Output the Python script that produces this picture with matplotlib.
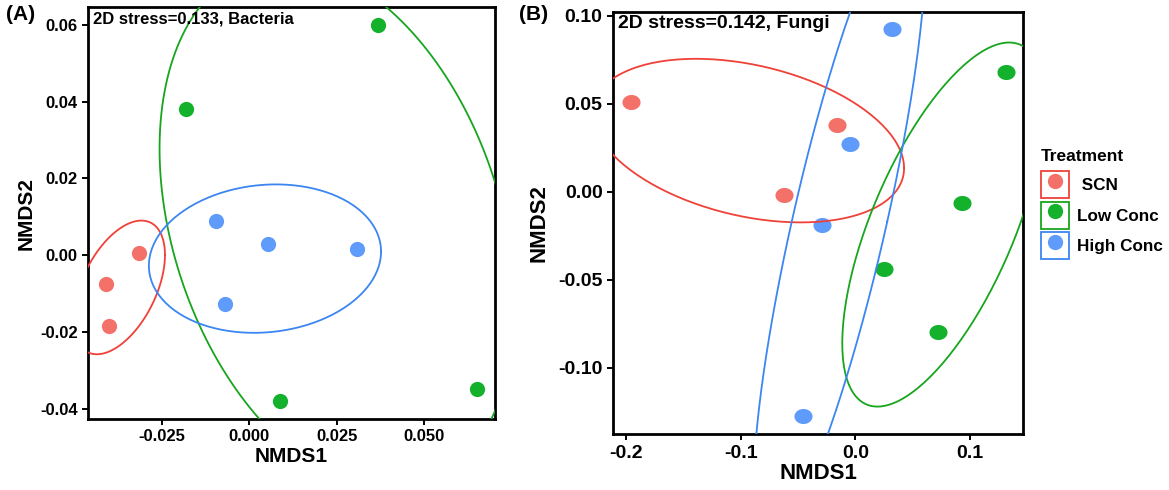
import numpy as np
import matplotlib
matplotlib.use("Agg")
import matplotlib.pyplot as plt
from matplotlib.path import Path
from matplotlib.patches import Rectangle
from matplotlib.lines import Line2D
from matplotlib.legend_handler import HandlerTuple

plt.rcParams['font.family'] = ['Liberation Sans', 'DejaVu Sans']
plt.rcParams['font.weight'] = 'bold'
plt.rcParams['axes.unicode_minus'] = False

groups = ["SCN", "Low Conc", "High Conc"]
pt_colors = ["#F4716A", "#13B12C", "#5F9BFA"]
line_colors = ["#EF4138", "#17A51D", "#3B86F2"]

# Bacteria NMDS scores
bac_x = {"SCN": [-0.0314, -0.0409, -0.0401],
         "Low Conc": [0.0368, -0.0180, 0.0089, 0.0653],
         "High Conc": [-0.0095, 0.0055, 0.0307, -0.0069]}
bac_y = {"SCN": [0.0007, -0.0075, -0.0184],
         "Low Conc": [0.0600, 0.0381, -0.0381, -0.0349],
         "High Conc": [0.0090, 0.0029, 0.0017, -0.0128]}

# Fungi NMDS scores
fun_x = {"SCN": [-0.1959, -0.0160, -0.0619],
         "Low Conc": [0.1312, 0.0930, 0.0248, 0.0724],
         "High Conc": [0.0317, -0.0046, -0.0288, -0.0453]}
fun_y = {"SCN": [0.0513, 0.0379, -0.0017],
         "Low Conc": [0.0678, -0.0061, -0.0438, -0.0795],
         "High Conc": [0.0924, 0.0273, -0.0188, -0.1275]}

# 95% ellipses: centre + a*cos(t) + b*sin(t)
# (cx, cy, ax, ay, bx, by) in NMDS units
bac_ell = {"SCN": [-0.0372, -0.0084, 0.01311, 0.00847, 0.0, 0.01523],
           "Low Conc": [0.02511, 0.00736, 0.05075, -0.02039, 0.0, 0.06557],
           "High Conc": [0.00451, -0.00089, 0.0332, 0.00183, 0.0, 0.01926]}
fun_ell = {"SCN": [-0.0933, 0.0291, 0.1358, -0.01563, 0.0, 0.04375],
           "Low Conc": [0.0767, -0.01858, 0.0881, 0.0674, 0.0, 0.0784],
           "High Conc": [-0.01387, -0.01705, 0.04164, 0.0, 0.06227, 0.1818]}


def ellipse_xy(e, n=200):
    t = np.linspace(0, 2 * np.pi, n)
    return (e[0] + e[2] * np.cos(t) + e[4] * np.sin(t),
            e[1] + e[3] * np.cos(t) + e[5] * np.sin(t))


# the fungi panel is a bit stretched sideways, so its dots are too
t = np.linspace(0, 2 * np.pi, 40)
wide_dot = Path(np.column_stack([1.2 * np.cos(t), np.sin(t)]), closed=True)

fig = plt.figure(figsize=(11.69, 4.90), dpi=100)
axA = fig.add_axes([0.0753, 0.1449, 0.3481, 0.8408])
axB = fig.add_axes([0.5244, 0.1137, 0.3510, 0.8624])


def panel(ax, xs, ys, ells, marker, msize, fs):
    for g, pc in zip(groups, pt_colors):
        ax.scatter(xs[g], ys[g], s=msize, color=pc, marker=marker, linewidths=0, zorder=2)
    for g, lc in zip(groups, line_colors):
        ex, ey = ellipse_xy(ells[g])
        ax.plot(ex, ey, color=lc, lw=1.3, zorder=3)
    for s in ax.spines.values():
        s.set_linewidth(2.0)
    ax.tick_params(direction='out', length=4, width=1.4, labelsize=fs, colors='black')


panel(axA, bac_x, bac_y, bac_ell, 'o', 120, 12)
axA.set_xlim(-0.0461, 0.0703)
axA.set_ylim(-0.0427, 0.0647)
axA.set_xticks([-0.025, 0.0, 0.025, 0.05])
axA.set_xticklabels(["-0.025", "0.000", "0.025", "0.050"])
axA.set_yticks([-0.04, -0.02, 0.0, 0.02, 0.04, 0.06])
axA.set_yticklabels(["-0.04", "-0.02", "0.00", "0.02", "0.04", "0.06"])
axA.set_xlabel("NMDS1", fontsize=15, fontweight='bold', labelpad=2)
axA.set_ylabel("NMDS2", fontsize=15, fontweight='bold', labelpad=3)
axA.text(0.012, 0.988, "2D stress=0.133, Bacteria", transform=axA.transAxes,
         ha='left', va='top', fontsize=12, fontweight='bold')

panel(axB, fun_x, fun_y, fun_ell, wide_dot, 170, 14)
axB.set_xlim(-0.2113, 0.1465)
axB.set_ylim(-0.1377, 0.1023)
axB.set_xticks([-0.2, -0.1, 0.0, 0.1])
axB.set_xticklabels(["-0.2", "-0.1", "0.0", "0.1"])
axB.set_yticks([-0.10, -0.05, 0.0, 0.05, 0.10])
axB.set_yticklabels(["-0.10", "-0.05", "0.00", "0.05", "0.10"])
axB.set_xlabel("NMDS1", fontsize=16, fontweight='bold', labelpad=1)
axB.set_ylabel("NMDS2", fontsize=16, fontweight='bold', labelpad=6)
axB.text(0.012, 0.992, "2D stress=0.142, Fungi", transform=axB.transAxes,
         ha='left', va='top', fontsize=14, fontweight='bold')

fig.text(0.005, 0.99, "(A)", fontsize=15, fontweight='bold', ha='left', va='top')
fig.text(0.444, 0.99, "(B)", fontsize=15, fontweight='bold', ha='left', va='top')

handles = []
for pc, lc in zip(pt_colors, line_colors):
    box = Rectangle((0, 0), 1, 1, facecolor='none', edgecolor=lc, linewidth=1.3)
    dot = Line2D([], [], linestyle='none', marker='o', markersize=11,
                 markerfacecolor=pc, markeredgewidth=0)
    handles.append((box, dot))
leg = fig.legend(handles, [" SCN", "Low Conc", "High Conc"],
                 handler_map={tuple: HandlerTuple(ndivide=1, pad=0)},
                 title="Treatment", loc='upper left', bbox_to_anchor=(0.8907, 0.695),
                 frameon=False, title_fontsize=12.5,
                 handlelength=1.65, handleheight=2.05, labelspacing=0.2,
                 handletextpad=0.45, borderpad=0, borderaxespad=0,
                 alignment='left', prop={'weight': 'bold', 'size': 12.3})
leg.get_title().set_fontweight('bold')
# a little room between title and keys
leg._legend_box.sep = 5

fig.savefig("out.png", dpi=100)
